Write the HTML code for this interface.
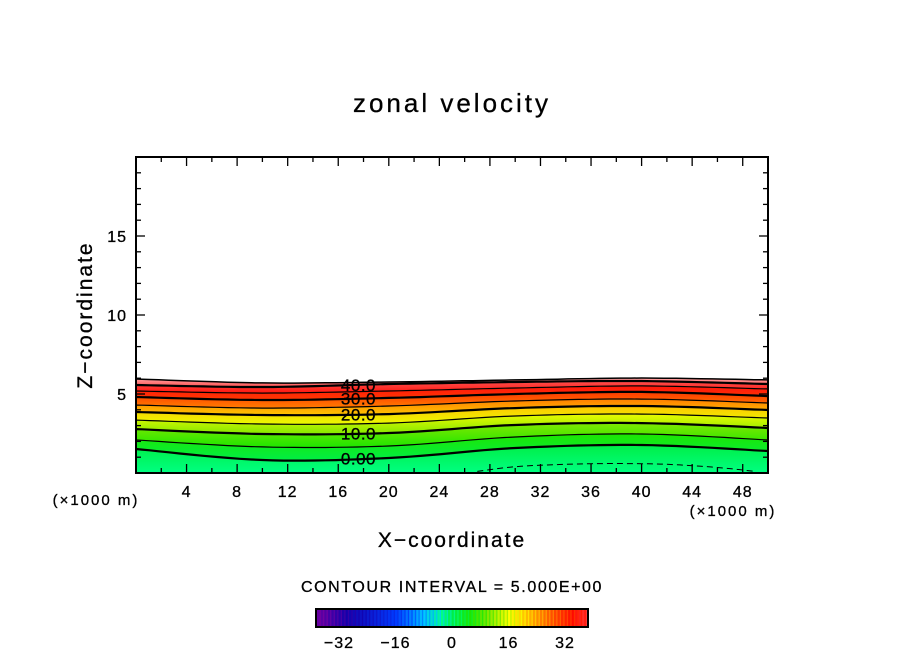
<!DOCTYPE html>
<html><head><meta charset="utf-8"><style>
html,body{margin:0;padding:0;background:#fff;}
svg text{font-family:"Liberation Sans",sans-serif;fill:#000;stroke:#000;stroke-width:0.3;}
</style></head><body>
<svg id="chart" width="904" height="654" viewBox="0 0 904 654" xmlns="http://www.w3.org/2000/svg">
<text x="452" y="112" font-size="26" text-anchor="middle" letter-spacing="3">zonal velocity</text>
<g id="plot"></g>
<text x="452" y="547" font-size="21" text-anchor="middle" letter-spacing="2">X−coordinate</text>
<text transform="translate(92,315) rotate(-90)" font-size="21" text-anchor="middle" letter-spacing="2">Z−coordinate</text>
<text x="96" y="505" font-size="15" text-anchor="middle" letter-spacing="2">(×1000 m)</text>
<text x="733" y="516" font-size="15" text-anchor="middle" letter-spacing="2">(×1000 m)</text>
<text x="452" y="592" font-size="16" text-anchor="middle" letter-spacing="1.6">CONTOUR INTERVAL = 5.000E+00</text>
<g id="cbar"></g>
</svg>
<script>
const xsKm = [0, 10, 20, 30, 40, 50];
const levels = [0, 5, 10, 15, 20, 25, 30, 35, 40];
const z0 = [1.52, 0.82, 0.95, 1.58, 1.77, 1.39];
const z5 = [2.09, 1.65, 1.71, 2.28, 2.47, 2.09];
const z10 = [2.78, 2.47, 2.53, 3.04, 3.16, 2.85];
const z15 = [3.35, 3.10, 3.16, 3.61, 3.73, 3.48];
const z20 = [3.86, 3.67, 3.73, 4.11, 4.24, 3.99];
const z25 = [4.30, 4.11, 4.24, 4.56, 4.68, 4.43];
const z30 = [4.81, 4.62, 4.75, 5.00, 5.13, 4.87];
const z35 = [5.19, 5.06, 5.19, 5.38, 5.51, 5.32];
const z40 = [5.57, 5.44, 5.63, 5.76, 5.82, 5.63];
const zTop = [5.95, 5.70, 5.76, 5.89, 6.01, 5.89];
const negXs = [27, 30, 34, 38, 42, 46, 49];
const negZ = [0.1, 0.4, 0.55, 0.6, 0.55, 0.35, 0.1];
const xTicks = [4, 8, 12, 16, 20, 24, 28, 32, 36, 40, 44, 48];
const yTicks = [5, 10, 15];
const cbTicks = [-32, -16, 0, 16, 32];
const labeled = [[0, "0.00"], [10, "10.0"], [20, "20.0"], [30, "30.0"], [40, "40.0"]];

const L = 136, R = 768, T = 157, B = 473;
const X = v => L + v * (R - L) / 50;
const Y = v => B - v * (B - T) / 20;
const NS = "http://www.w3.org/2000/svg";
const plot = document.getElementById('plot');
function mk(tag, attrs, parent) { const e = document.createElementNS(NS, tag); for (const k in attrs) e.setAttribute(k, attrs[k]); parent.appendChild(e); return e; }
const lines = [z0, z5, z10, z15, z20, z25, z30, z35, z40];
// smooth (Catmull-Rom) sampled points
function smooth(xs, zs, n) {
  const P = xs.map((x, i) => [X(x), Y(zs[i])]);
  const out = [];
  for (let i = 0; i < P.length - 1; i++) {
    const p0 = P[Math.max(0, i - 1)], p1 = P[i], p2 = P[i + 1], p3 = P[Math.min(P.length - 1, i + 2)];
    for (let k = 0; k < n; k++) {
      const t = k / n, t2 = t * t, t3 = t2 * t;
      const f = j => 0.5 * ((2 * p1[j]) + (-p0[j] + p2[j]) * t + (2 * p0[j] - 5 * p1[j] + 4 * p2[j] - p3[j]) * t2 + (-p0[j] + 3 * p1[j] - 3 * p2[j] + p3[j]) * t3);
      out.push(f(0).toFixed(1) + ',' + f(1).toFixed(1));
    }
  }
  out.push(P[P.length - 1][0].toFixed(1) + ',' + P[P.length - 1][1].toFixed(1));
  return out;
}
const pts = arr => smooth(xsKm, arr, 12);
function colorFor(v) {
  const stops = [[-40,[120,0,160]],[-30,[20,0,170]],[-16,[0,60,255]],[-8,[0,200,255]],[-3,[0,255,130]],[0,[0,238,70]],[5,[30,230,0]],[10,[130,232,0]],[16,[255,255,0]],[22,[255,170,0]],[28,[255,80,0]],[34,[255,10,0]],[40,[255,80,80]],[46,[255,165,165]]];
  if (v <= stops[0][0]) return 'rgb(' + stops[0][1] + ')';
  for (let i = 0; i < stops.length - 1; i++) {
    const [a, ca] = stops[i], [b, cb] = stops[i + 1];
    if (v <= b) { const t = (v - a) / (b - a); return 'rgb(' + ca.map((c, j) => Math.round(c + (cb[j] - c) * t)).join(',') + ')'; }
  }
  return 'rgb(' + stops[stops.length - 1][1] + ')';
}
const defs = mk('defs', {}, plot);
function band(lowArr, highArr, vLow, vHigh, name) {
  const id = 'g' + name;
  const g = mk('linearGradient', {id: id, x1: 0, y1: 1, x2: 0, y2: 0}, defs);
  mk('stop', {offset: 0, 'stop-color': colorFor(vLow)}, g);
  mk('stop', {offset: 1, 'stop-color': colorFor(vHigh)}, g);
  const lowPts = lowArr ? pts(lowArr) : [X(0) + ',' + B, X(50) + ',' + B];
  const p = mk('polygon', {points: pts(highArr).concat(lowPts.slice().reverse()).join(' '), fill: 'url(#' + id + ')'}, plot);
  
  
}
band(null, z0, -3, 0, 'below-0');
for (let i = 0; i < lines.length - 1; i++) band(lines[i], lines[i + 1], levels[i], levels[i + 1], String(levels[i]));
band(z40, zTop, 40, 46, 'top');
lines.forEach((arr, i) => {
  const pl = mk('polyline', {points: pts(arr).join(' '), fill: 'none', stroke: '#000', 'stroke-width': (levels[i] % 10 === 0) ? 2.2 : 1.2}, plot);
  
  
});
const topLine = mk('polyline', {points: pts(zTop).join(' '), fill: 'none', stroke: '#000', 'stroke-width': 1.5}, plot);


const negLine = mk('polyline', {points: smooth(negXs, negZ, 8).join(' '), fill: 'none', stroke: '#000', 'stroke-width': 1, 'stroke-dasharray': '6,4'}, plot);


labeled.forEach(([v, s]) => {
  const arr = lines[levels.indexOf(v)];
  const zz = arr[1] + (arr[2] - arr[1]) * 0.75;
  const yy = Y(zz);
  const t = mk('text', {x: X(17.6), y: yy + 6, 'font-size': 17, 'text-anchor': 'middle', 'letter-spacing': '0.5'}, plot);
  t.textContent = s;
  
  
});
const fr = mk('rect', {x: L, y: T, width: R - L, height: B - T, fill: 'none', stroke: '#000', 'stroke-width': 2}, plot);


for (let v = 2; v < 50; v += 2) {
  const len = v % 4 === 0 ? 9 : 5;
  mk('line', {x1: X(v), x2: X(v), y1: B, y2: B - len, stroke: '#000', 'stroke-width': 1.3}, plot);
  mk('line', {x1: X(v), x2: X(v), y1: T, y2: T + len, stroke: '#000', 'stroke-width': 1.3}, plot);
}
for (let v = 1; v < 20; v++) {
  const len = v % 5 === 0 ? 9 : 5;
  mk('line', {x1: L, x2: L + len, y1: Y(v), y2: Y(v), stroke: '#000', 'stroke-width': 1.3}, plot);
  mk('line', {x1: R, x2: R - len, y1: Y(v), y2: Y(v), stroke: '#000', 'stroke-width': 1.3}, plot);
}
xTicks.forEach(v => {
  const t = mk('text', {x: X(v), y: 497, 'font-size': 16, 'text-anchor': 'middle', 'letter-spacing': '1'}, plot);
  t.textContent = v;
  
  
});
yTicks.forEach(v => {
  const t = mk('text', {x: 127, y: Y(v) + 6, 'font-size': 16, 'text-anchor': 'end', 'letter-spacing': '1'}, plot);
  t.textContent = v;
  
  
});
const cb = document.getElementById('cbar');
const CL = 316, CR = 588, vMin = -38.5, vMax = 38.5;
const CX = v => CL + (v - vMin) * (CR - CL) / (vMax - vMin);
for (let v = vMin; v < vMax; v += 1) {
  mk('rect', {x: CX(v), y: 609, width: (CR - CL) / (vMax - vMin) + 0.3, height: 18, fill: colorFor(v + 0.5)}, cb);
  mk('rect', {x: CX(v), y: 609, width: 1.3, height: 18, fill: colorFor(v - 4), opacity: 0.85}, cb);
}
mk('rect', {x: CL, y: 609, width: CR - CL, height: 18, fill: 'none', stroke: '#000', 'stroke-width': 2}, cb);
cbTicks.forEach(v => {
  const t = mk('text', {x: CX(v), y: 648, 'font-size': 16, 'text-anchor': 'middle', 'letter-spacing': '1'}, cb);
  t.textContent = v < 0 ? '−' + Math.abs(v) : v;
  
  
});
</script>
</body></html>
